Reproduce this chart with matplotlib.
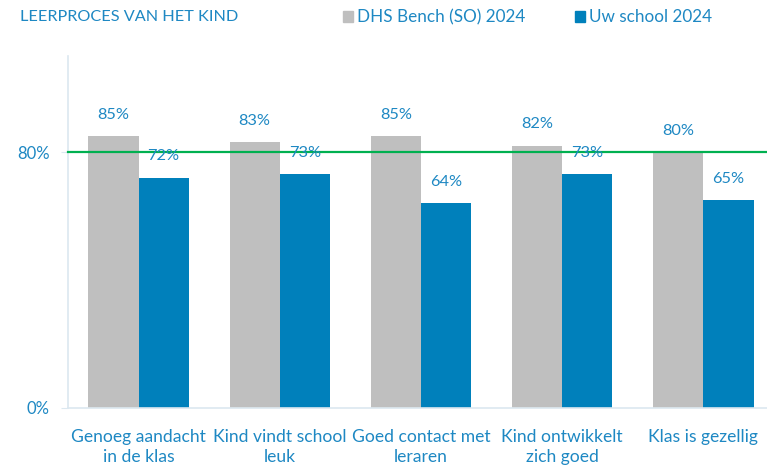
import matplotlib
matplotlib.use("Agg")
import matplotlib.pyplot as plt
import numpy as np

categories = ["Genoeg aandacht\nin de klas", "Kind vindt school\nleuk", "Goed contact met\nleraren",
              "Kind ontwikkelt\nzich goed", "Klas is gezellig"]
bench = [85, 83, 85, 82, 80]
school = [72, 73, 64, 73, 65]
series_names = ["DHS Bench (SO) 2024", "Uw school 2024"]
title = "LEERPROCES VAN HET KIND"
norm_value = 80

GRAY = "#BFBFBF"
BLUE = "#0080BB"
TXT = "#1E88C3"
GREEN = "#00B050"
AXC = "#DCE8F0"

plt.rcParams['font.family'] = ['Lato', 'DejaVu Sans']

W, H = 767, 467
fig = plt.figure(figsize=(W/100, H/100), dpi=100)
left, right, bottom, top = 68, 774, 408, 56
ax = fig.add_axes([left/W, 1 - bottom/H, (right-left)/W, (bottom-top)/H])

x = np.arange(len(categories))
bw = 0.355
ax.bar(x - bw/2, bench, width=bw, color=GRAY, zorder=2)
ax.bar(x + bw/2, school, width=bw, color=BLUE, zorder=2)
ax.axhline(norm_value, color=GREEN, lw=1.6, zorder=3, clip_on=False)

for i, (b, s) in enumerate(zip(bench, school)):
    ax.text(x[i] - bw/2, b + 4.5, f"{b}%", ha="center", va="bottom", color=TXT, fontsize=11.8, zorder=4)
    ax.text(x[i] + bw/2, s + 4.5, f"{s}%", ha="center", va="bottom", color=TXT, fontsize=11.8, zorder=4)

ax.set_xlim(-0.5, len(categories) - 0.5)
ax.set_ylim(0, 110)
ax.set_yticks([0, 80])
ax.set_yticklabels(["0%", "80%"], color=TXT, fontsize=12)
ax.set_xticks(x)
ax.set_xticklabels(categories, color=TXT, fontsize=12.6, linespacing=1.3)
ax.tick_params(axis='x', length=0, pad=15)
ax.tick_params(axis='y', length=5, color=AXC, pad=8)
for s in ["top", "right"]:
    ax.spines[s].set_visible(False)
ax.spines["left"].set_color(AXC)
ax.spines["bottom"].set_color(AXC)
ax.spines["left"].set_linewidth(1.2)
ax.spines["bottom"].set_linewidth(1.2)

fig.text(20/W, 1 - 17/H, title, color=TXT, fontsize=11.7, va="center", ha="left")
# legend
for (lx, tx, name, col) in [(343, 357, series_names[0], GRAY), (575, 589, series_names[1], BLUE)]:
    fig.patches.append(plt.Rectangle((lx/W, 1 - 22/H), 10/W, 11/H, transform=fig.transFigure,
                                     color=col, figure=fig))
    fig.text(tx/W, 1 - 17/H, name, color=TXT, fontsize=12.3, va="center", ha="left")

fig.savefig("out.png", dpi=100)
